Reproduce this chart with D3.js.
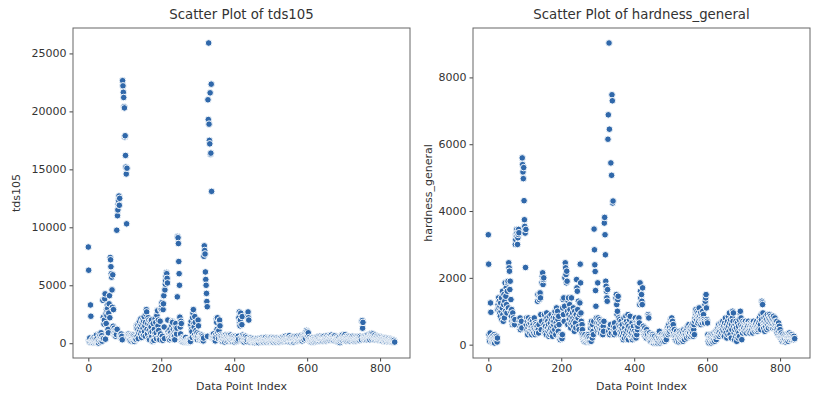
<!DOCTYPE html>
<html>
<head>
<meta charset="utf-8">
<script src="https://cdn.jsdelivr.net/npm/d3@7"></script>
<style>
  body { margin: 0; background: #fff; }
  svg text { font-family: "DejaVu Sans", sans-serif; fill: #333; }
</style>
</head>
<body>
<svg id="chart" width="819" height="396"></svg>
<script>
// values, one per data point index (0..840)
const tds105 = [
  8300, 6300, 250, 120, 450, 80, 3300, 2330, 150, 60,
  300, 180, 90, 420, 40, 200, 520, 110, 350, 60,
  150, 280, 700, 90, 400, 30, 180, 60, 20, 250,
  800, 600, 350, 120, 480, 900, 250, 650, 180, 420,
  3700, 2230, 400, 1650, 2000, 3830, 4260, 350, 2500, 1700,
  2900, 2400, 3300, 3000, 1200, 900, 2600, 3400, 4100, 2200,
  7400, 7200, 6600, 6000, 5700, 4600, 3100, 5900, 1470, 2900,
  800, 1300, 700, 1100, 1000, 600, 900, 750, 9750, 1200,
  11000, 11500, 12000, 12300, 12700, 11900, 12500, 700, 600, 500,
  800, 400, 600, 300, 22650, 22200, 21650, 21200, 20400, 20300,
  17800, 17900, 16200, 15200, 14600, 10300, 15100, 700, 650, 500,
  800, 600, 700, 450, 300, 650, 550, 200, 700, 400,
  600, 500, 250, 700, 350, 600, 150, 450, 500, 300,
  400, 350, 1500, 1300, 600, 1600, 1200, 400, 900, 1700,
  1900, 1100, 1400, 800, 2100, 1600, 500, 1000, 1800, 2000,
  1300, 700, 1900, 2300, 1000, 1500, 600, 1800, 2500, 2900,
  2700, 1200, 800, 1700, 2200, 400, 2000, 1100, 300, 1600,
  1900, 900, 1400, 2000, 600, 1000, 200, 150, 1700, 300,
  250, 1200, 800, 2100, 600, 1800, 900, 400, 2400, 2850,
  2800, 1500, 2000, 1100, 500, 600, 300, 1900, 800, 2900,
  2950, 3300, 3500, 600, 250, 2900, 3400, 4100, 1400, 400,
  4600, 5100, 5400, 5800, 6100, 6000, 5600, 5200, 2000, 1000,
  700, 500, 800, 300, 1200, 600, 900, 400, 650, 1500,
  1900, 1800, 700, 1200, 500, 800, 600, 300, 1000, 1300,
  1700, 1100, 800, 1300, 4000, 9200, 9100, 8600, 7050, 6000,
  5000, 2250, 1400, 800, 1900, 1700, 200, 300, 150, 500,
  400, 250, 100, 350, 200, 150, 300, 500, 100, 200,
  150, 300, 100, 250, 180, 150, 80, 120, 200, 300,
  150, 1600, 1900, 1200, 1000, 500, 2200, 2600, 2900, 1700,
  1400, 700, 2300, 1800, 500, 1100, 600, 400, 900, 300,
  600, 2000, 1500, 800, 500, 300, 400, 700, 600, 500,
  400, 700, 500, 300, 600, 200, 450, 7500, 8400, 8000,
  7700, 6150, 5500, 5000, 4300, 3600, 3150, 600, 21000, 19300,
  25900, 18900, 17500, 17200, 21600, 16300, 16400, 22350, 13100, 500,
  700, 450, 600, 800, 400, 500, 300, 600, 200, 700,
  500, 2100, 1800, 1200, 2200, 900, 600, 400, 1100, 1900,
  2000, 1500, 700, 400, 600, 300, 500, 200, 150, 400,
  300, 600, 450, 250, 100, 500, 700, 350, 200, 600,
  400, 650, 300, 150, 500, 700, 250, 400, 600, 300,
  700, 450, 200, 550, 350, 150, 400, 600, 250, 500,
  300, 100, 450, 600, 200, 350, 500, 150, 400, 250,
  500, 600, 350, 2200, 2700, 1800, 1500, 2000, 2600, 500,
  300, 1600, 2300, 700, 200, 400, 600, 100, 300, 500,
  400, 600, 200, 350, 150, 500, 300, 2500, 2700, 2200,
  2000, 400, 250, 100, 300, 450, 200, 350, 150, 300,
  150, 350, 200, 100, 400, 250, 50, 300, 150, 200,
  350, 100, 250, 400, 150, 300, 200, 50, 350, 250,
  400, 200, 300, 100, 250, 450, 150, 350, 200, 300,
  100, 400, 250, 350, 150, 300, 500, 200, 100, 350,
  250, 450, 150, 300, 400, 200, 100, 350, 250, 150,
  300, 500, 200, 400, 150, 350, 250, 100, 450, 300,
  200, 350, 150, 400, 250, 100, 300, 450, 200, 350,
  150, 300, 400, 250, 100, 350, 200, 450, 300, 150,
  350, 250, 500, 150, 300, 400, 200, 550, 250, 350,
  600, 300, 450, 200, 500, 350, 150, 400, 250, 550,
  300, 650, 200, 450, 350, 100, 500, 250, 400, 150,
  200, 450, 300, 100, 550, 350, 200, 450, 300, 500,
  400, 250, 600, 350, 200, 450, 300, 550, 250, 400,
  350, 500, 250, 650, 300, 450, 200, 550, 350, 700,
  450, 600, 300, 750, 500, 850, 400, 950, 1100, 700,
  1000, 800, 600, 900, 400, 300, 500, 200, 350, 150,
  250, 400, 100, 300, 200, 450, 150, 350, 250, 100,
  300, 200, 450, 150, 350, 250, 500, 200, 400, 300,
  550, 350, 250, 450, 200, 600, 300, 500, 400, 250,
  450, 300, 550, 200, 400, 350, 600, 250, 450, 300,
  350, 500, 200, 450, 300, 650, 400, 250, 550, 350,
  300, 600, 450, 250, 500, 350, 700, 400, 300, 550,
  450, 350, 600, 250, 500, 400, 650, 300, 450, 200,
  350, 550, 250, 450, 150, 400, 300, 100, 500, 250,
  50, 200, 400, 300, 600, 350, 700, 450, 250, 550,
  400, 650, 300, 500, 750, 350, 450, 200, 600, 300,
  500, 350, 250, 600, 400, 300, 550, 200, 450, 350,
  300, 500, 400, 250, 600, 350, 450, 200, 550, 300,
  400, 250, 500, 350, 200, 450, 300, 550, 400, 250,
  350, 500, 300, 450, 250, 600, 400, 350, 500, 300,
  1900, 1950, 1300, 1800, 400, 550, 300, 450, 600, 350,
  500, 400, 650, 300, 550, 450, 700, 350, 500, 600,
  400, 550, 300, 650, 800, 500, 450, 850, 350, 600,
  800, 500, 650, 400, 550, 300, 700, 450, 350, 500,
  600, 400, 550, 300, 450, 350, 500, 250, 400, 300,
  550, 350, 450, 250, 500, 300, 400, 200, 350, 450,
  300, 400, 200, 350, 250, 450, 300, 150, 400, 250,
  350, 200, 300, 250, 400, 150, 300, 200, 350, 250,
  200, 300, 150, 250, 100, 300, 200, 150, 250, 100,
  100
];

const hardnessGeneral = [
  3290, 2410, 300, 150, 100, 350, 1250, 970, 200, 120,
  80, 250, 150, 60, 200, 100, 300, 50, 180, 250,
  150, 200, 120, 250, 80, 200, 1050, 1200, 1400, 1100,
  1300, 950, 1150, 850, 1250, 1000, 1400, 750, 1100, 1600,
  900, 700, 1200, 1500, 800, 1300, 1850, 1000, 1450, 1700,
  1200, 950, 1600, 1850, 1900, 1100, 2450, 2300, 2200, 1650,
  1900, 1000, 1350, 850, 1050, 700, 600, 950, 650, 800,
  700, 650, 600, 750, 3000, 3150, 3300, 3250, 3450, 3350,
  3000, 3200, 3300, 3450, 3350, 700, 500, 800, 450, 650,
  600, 700, 500, 5590, 5390, 5170, 4970, 5300, 4310, 3740,
  3540, 3340, 2310, 3450, 600, 800, 450, 700, 300, 500,
  800, 600, 400, 700, 350, 650, 500, 750, 450, 300,
  550, 700, 400, 600, 350, 500, 800, 450, 300, 650,
  400, 600, 350, 500, 550, 1300, 1500, 450, 350, 600,
  1350, 1500, 1550, 1400, 900, 450, 700, 1850, 2050, 2150,
  1800, 1950, 2000, 600, 900, 400, 350, 550, 750, 300,
  950, 800, 500, 700, 400, 600, 250, 850, 450, 300,
  650, 500, 900, 350, 750, 550, 250, 400, 800, 600,
  700, 950, 450, 1000, 800, 300, 650, 1100, 550, 900,
  1000, 750, 400, 850, 600, 250, 200, 150, 300, 250,
  200, 250, 180, 300, 1100, 1350, 900, 1400, 700, 1150,
  2000, 2450, 2300, 2100, 1850, 2200, 1900, 1000, 600, 1300,
  1400, 900, 750, 1200, 1050, 650, 500, 850, 1400, 700,
  600, 950, 800, 1100, 550, 700, 400, 1000, 850, 650,
  500, 900, 1950, 1700, 1600, 1050, 800, 1300, 550, 450,
  900, 1250, 2410, 1850, 950, 700, 350, 600, 450, 300,
  200, 150, 250, 100, 180, 300, 120, 200, 80, 150,
  250, 150, 100, 200, 300, 120, 250, 80, 180, 100,
  500, 650, 100, 700, 550, 200, 600, 400, 300, 700,
  3460, 2840, 2390, 2190, 1620, 1150, 800, 500, 650, 400,
  1850, 800, 550, 650, 400, 750, 500, 600, 350, 700,
  500, 450, 650, 350, 300, 550, 400, 700, 3640, 3810,
  3290, 2690, 1900, 1750, 1600, 1400, 1300, 1650, 6150, 6880,
  400, 9030, 6450, 300, 500, 600, 5440, 350, 5070, 7480,
  7300, 4240, 4300, 450, 550, 300, 650, 400, 500, 350,
  1400, 1500, 1200, 900, 1000, 1350, 1450, 800, 600, 450,
  750, 550, 400, 300, 700, 500, 350, 600, 250, 450,
  150, 350, 800, 200, 500, 650, 300, 850, 400, 700,
  200, 600, 450, 900, 150, 550, 300, 750, 400, 850,
  250, 500, 350, 200, 650, 150, 450, 300, 550, 200,
  400, 250, 750, 800, 350, 200, 600, 300, 700, 450,
  550, 750, 700, 800, 650, 1200, 1850, 1600, 1400, 1250,
  1500, 1300, 1200, 1700, 400, 550, 350, 450, 300, 500,
  250, 400, 300, 200, 450, 350, 250, 300, 900, 850,
  800, 200, 350, 150, 250, 100, 300, 200, 250, 100,
  300, 250, 150, 50, 200, 100, 250, 80, 150, 50,
  200, 100, 80, 150, 50, 250, 100, 200, 350, 400,
  150, 50, 250, 100, 200, 300, 80, 150, 250, 100,
  200, 300, 150, 250, 100, 350, 200, 300, 150, 400,
  350, 500, 400, 300, 450, 600, 350, 500, 400, 700,
  750, 650, 450, 800, 550, 700, 400, 600, 350, 250,
  450, 200, 300, 150, 350, 250, 400, 100, 300, 200,
  150, 300, 80, 250, 400, 200, 350, 100, 250, 150,
  300, 400, 200, 350, 100, 250, 450, 300, 150, 350,
  400, 250, 300, 500, 200, 450, 350, 550, 300, 250,
  600, 400, 350, 500, 250, 450, 550, 300, 400, 600,
  350, 500, 250, 450, 600, 300, 700, 800, 950, 1050,
  900, 750, 1000, 850, 650, 950, 800, 700, 1100, 900,
  850, 750, 950, 600, 800, 700, 900, 650, 1000, 750,
  900, 750, 700, 650, 1200, 1300, 1400, 1500, 1100, 750,
  700, 650, 300, 100, 200, 50, 150, 250, 100, 300,
  200, 50, 150, 300, 100, 250, 80, 200, 150, 350,
  250, 100, 300, 200, 400, 150, 350, 250, 450, 300,
  500, 350, 600, 250, 450, 400, 550, 300, 650, 500,
  350, 600, 450, 700, 300, 550, 400, 250, 650, 500,
  800, 450, 350, 600, 200, 500, 700, 300, 850, 550,
  400, 950, 650, 300, 750, 500, 200, 600, 450, 800,
  1000, 700, 950, 550, 350, 150, 450, 600, 250, 700,
  500, 100, 300, 650, 400, 200, 550, 350, 750, 250,
  950, 1000, 600, 800, 450, 150, 550, 350, 700, 450,
  500, 650, 400, 600, 550, 700, 450, 350, 600, 500,
  650, 550, 400, 700, 450, 600, 500, 350, 550, 650,
  400, 600, 500, 450, 650, 350, 550, 700, 450, 500,
  600, 400, 550, 650, 450, 500, 700, 550, 400, 600,
  450, 650, 500, 800, 550, 700, 600, 450, 900, 750,
  1300, 1250, 1200, 950, 650, 500, 800, 600, 400, 700,
  550, 850, 650, 750, 450, 900, 600, 700, 500, 800,
  650, 900, 750, 550, 850, 700, 600, 800, 650, 500,
  750, 600, 850, 700, 500, 650, 800, 550, 700, 600,
  450, 700, 350, 600, 500, 300, 650, 400, 550, 250,
  450, 300, 200, 350, 150, 250, 100, 300, 200, 150,
  250, 100, 200, 150, 300, 80, 250, 120, 200, 300,
  150, 250, 100, 300, 200, 350, 150, 250, 300, 200,
  250, 150, 300, 200, 250, 180, 200, 150, 250, 180,
  180
];

const xTicks = [0, 200, 400, 600, 800];
const tdsTicks = [0, 5000, 10000, 15000, 20000, 25000];
const hardnessTicks = [0, 2000, 4000, 6000, 8000];

const svg = d3.select("#chart");
const plotTop = 28, plotBottom = 358;
const pointColor = "#3068aa";

// matplotlib style padding of 5% on each side
function padded(ext) {
  const pad = (ext[1] - ext[0]) * 0.05;
  return [ext[0] - pad, ext[1] + pad];
}

function drawPanel(left, right, values, yTicks, title, yLabel, yLabelX) {
  const g = svg.append("g");

  const x = d3.scaleLinear()
    .domain(padded([0, values.length - 1]))
    .range([left, right]);
  const y = d3.scaleLinear()
    .domain(padded(d3.extent(values)))
    .range([plotBottom, plotTop]);

  g.selectAll("circle")
    .data(values)
    .join("circle")
    .attr("cx", (d, i) => x(i))
    .attr("cy", d => y(d))
    .attr("r", 3.3)
    .attr("fill", pointColor)
    .attr("stroke", "#f4f8fc")
    .attr("stroke-width", 1);

  const xAxis = g.append("g")
    .attr("transform", "translate(0," + plotBottom + ")")
    .call(d3.axisBottom(x).tickValues(xTicks).tickSize(3.5).tickPadding(3));
  const yAxis = g.append("g")
    .attr("transform", "translate(" + left + ",0)")
    .call(d3.axisLeft(y).tickValues(yTicks).tickFormat(d3.format("d")).tickSize(3.5).tickPadding(3));

  [xAxis, yAxis].forEach(a => {
    a.select(".domain").remove();
    a.selectAll("line").attr("stroke", "#444");
    a.selectAll("text").style("font-size", "11px").attr("fill", "#333");
  });

  g.append("rect")
    .attr("x", left)
    .attr("y", plotTop)
    .attr("width", right - left)
    .attr("height", plotBottom - plotTop)
    .attr("fill", "none")
    .attr("stroke", "#666")
    .attr("stroke-width", 1);

  g.append("text")
    .attr("x", (left + right) / 2)
    .attr("y", 19)
    .attr("text-anchor", "middle")
    .style("font-size", "13.3px")
    .text(title);

  g.append("text")
    .attr("x", (left + right) / 2)
    .attr("y", 390)
    .attr("text-anchor", "middle")
    .style("font-size", "11px")
    .text("Data Point Index");

  g.append("text")
    .attr("transform", "translate(" + yLabelX + "," + ((plotTop + plotBottom) / 2) + ") rotate(-90)")
    .attr("text-anchor", "middle")
    .style("font-size", "11px")
    .text(yLabel);
}

drawPanel(73, 410, tds105, tdsTicks, "Scatter Plot of tds105", "tds105", 20);
drawPanel(473, 810, hardnessGeneral, hardnessTicks, "Scatter Plot of hardness_general", "hardness_general", 432);
</script>
</body>
</html>
